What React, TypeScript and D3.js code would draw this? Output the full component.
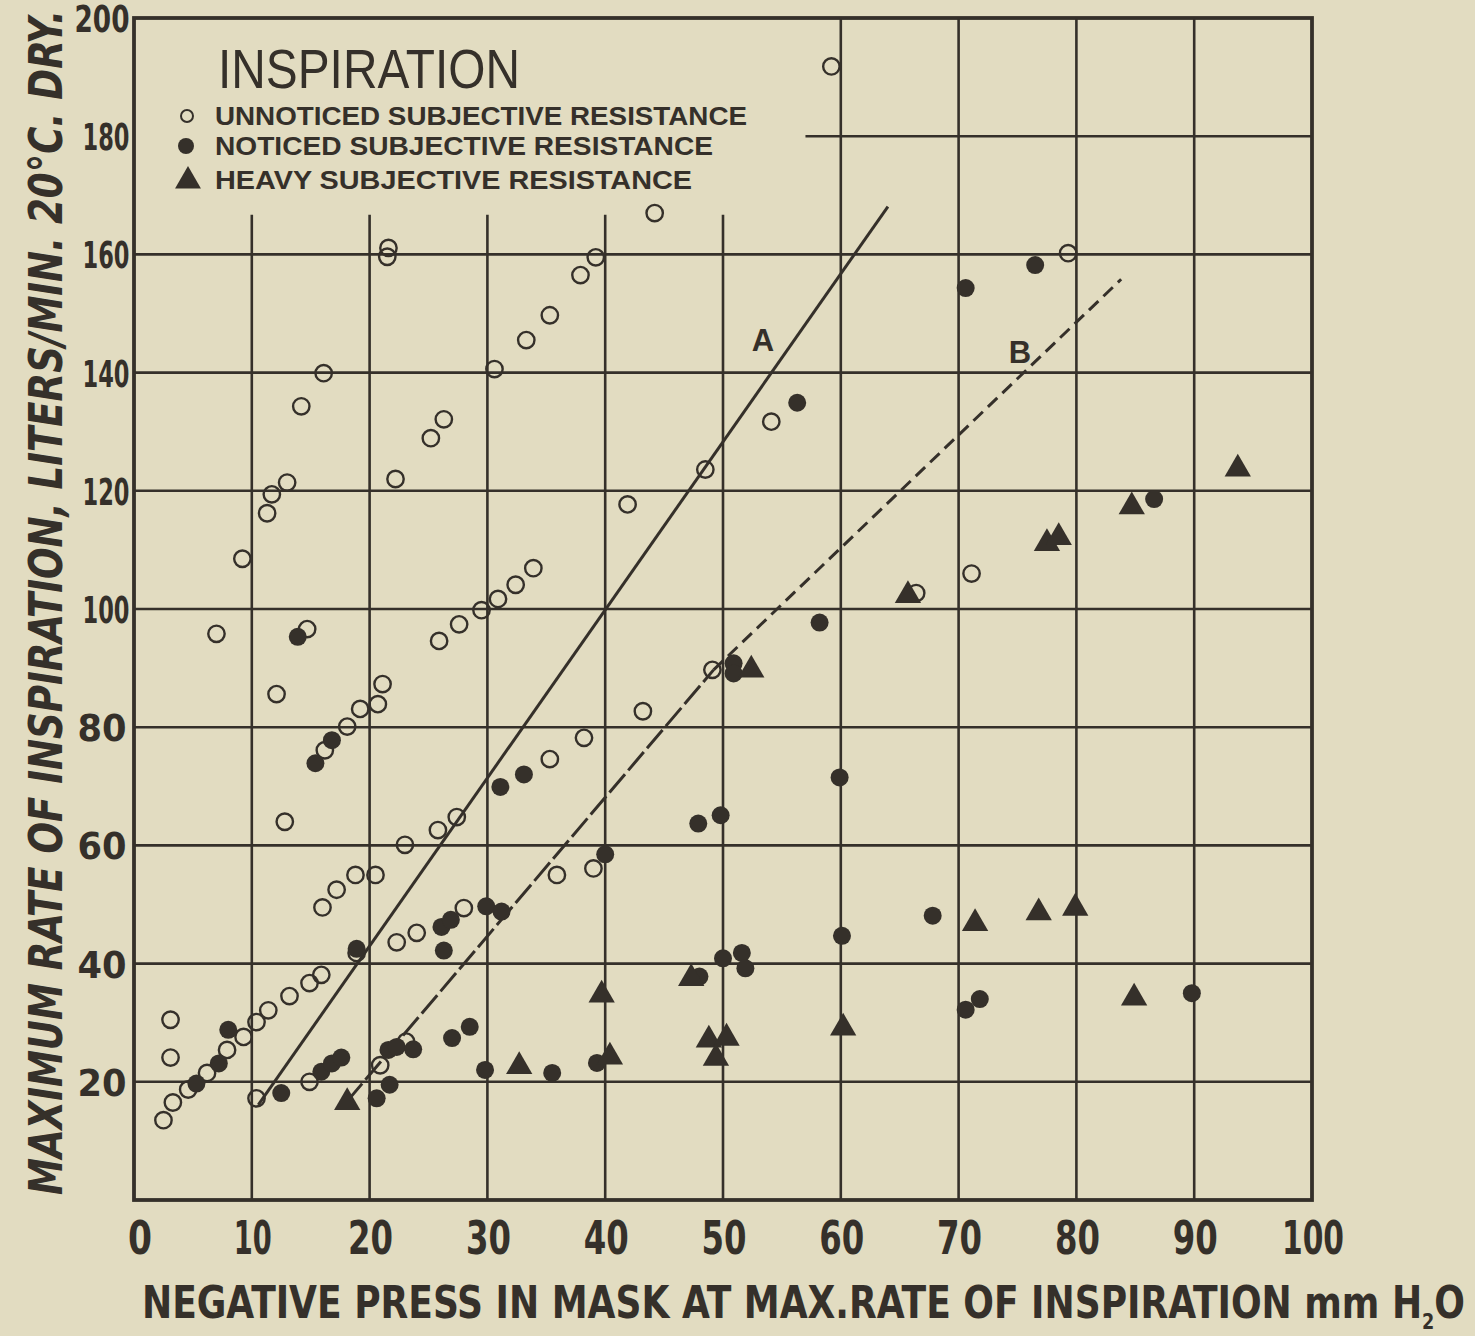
import React from 'react';
import * as d3 from 'd3';

// Fig. 7 - maximum rate of inspiration vs negative mask pressure
const W = 1475;
const H = 1336;

const xTicks = [0, 10, 20, 30, 40, 50, 60, 70, 80, 90, 100];
const yTicks = [20, 40, 60, 80, 100, 120, 140, 160, 180, 200];

// [mm H2O, liters/min]
const unnoticed: [number, number][] = [
  [21.6, 161.1], [21.5, 159.6], [16.1, 139.9], [30.6, 140.6], [33.3, 145.5], [14.2, 134.3],
  [59.2, 191.8], [44.2, 167.0], [39.2, 159.5], [37.9, 156.5], [35.3, 149.7], [26.3, 132.1],
  [25.2, 128.9], [22.2, 122.0], [13.0, 121.4], [11.7, 119.4], [11.3, 116.2], [9.2, 108.5],
  [7.0, 95.8], [14.7, 96.6], [12.1, 85.6], [25.9, 94.6], [27.6, 97.4], [29.5, 99.8],
  [30.9, 101.7], [32.4, 104.1], [33.9, 106.9], [21.1, 87.3], [20.7, 83.9], [19.2, 83.1],
  [18.1, 80.1], [16.2, 76.1], [12.8, 64.0], [27.4, 64.8], [25.8, 62.6], [23.0, 60.1],
  [20.5, 55.0], [18.8, 55.0], [17.2, 52.5], [16.0, 49.5], [28.0, 49.4], [24.0, 45.2],
  [22.3, 43.6], [18.9, 41.8], [15.9, 38.1], [14.9, 36.7], [13.2, 34.5], [11.4, 32.1],
  [10.4, 30.1], [9.3, 27.6], [7.9, 25.4], [6.2, 21.5], [4.6, 18.7], [3.3, 16.5],
  [2.5, 13.5], [3.1, 30.5], [3.1, 24.1], [10.4, 17.2], [14.9, 20.0], [20.9, 22.8],
  [23.1, 26.8], [54.1, 131.7], [48.5, 123.6], [41.9, 117.7], [66.4, 102.7], [49.1, 89.7],
  [43.2, 82.7], [38.2, 78.2], [35.3, 74.6], [35.9, 55.0], [39.0, 56.1], [79.3, 160.2],
  [71.1, 106.0],
];

const noticed: [number, number][] = [
  [13.9, 95.3], [16.8, 77.8], [15.4, 73.9], [31.1, 69.9], [33.1, 72.0], [26.1, 46.2],
  [26.9, 47.4], [26.3, 42.2], [29.9, 49.7], [31.2, 48.8], [18.9, 42.5], [8.0, 28.8],
  [7.2, 23.1], [5.3, 19.7], [12.5, 18.1], [15.9, 21.7], [16.8, 23.1], [17.6, 24.1],
  [20.6, 17.2], [21.7, 19.5], [21.6, 25.4], [22.3, 25.9], [23.7, 25.5], [27.0, 27.4],
  [28.5, 29.3], [29.8, 22.0], [56.3, 134.9], [58.2, 97.7], [50.9, 90.8], [50.9, 89.1],
  [59.9, 71.5], [47.9, 63.7], [49.8, 65.1], [40.0, 58.5], [35.5, 21.5], [39.3, 23.2],
  [48.0, 37.8], [50.0, 40.9], [51.6, 41.8], [51.9, 39.2], [60.1, 44.7], [67.8, 48.1],
  [70.6, 32.2], [71.8, 34.0], [89.8, 35.0], [76.5, 158.2], [70.6, 154.3], [86.6, 118.6],
];

const heavy: [number, number][] = [
  [18.1, 16.5], [32.7, 22.6], [39.7, 34.7], [40.4, 24.2], [47.3, 37.5], [48.8, 27.1],
  [50.3, 27.4], [49.4, 24.0], [60.2, 29.1], [52.4, 89.7], [65.7, 102.3], [71.4, 46.8],
  [76.8, 48.6], [79.9, 49.4], [84.9, 34.2], [93.7, 123.7], [84.7, 117.3], [77.5, 111.1],
  [78.5, 112.1],
];

// curve A (max unnoticed) and curve B (max noticed)
const curveA: [number, number][] = [[10.55, 16.1], [64.0, 168.1]];
const curveB: [number, number][] = [[18.05, 16.6], [49.2, 89.7], [83.8, 155.8]];

const legendLabels = [
  'UNNOTICED SUBJECTIVE RESISTANCE',
  'NOTICED SUBJECTIVE RESISTANCE',
  'HEAVY SUBJECTIVE RESISTANCE',
];

const paper = '#e2dcc1';
const ink = '#35302a';
const narrow = '"Liberation Sans Narrow", "DejaVu Sans Condensed", "Liberation Sans", sans-serif';

// stencil lettering widths, roughly as drawn
const xTickWidth = (t: number) => (t === 0 ? 24 : t === 10 ? 38 : t === 100 ? 62 : 45);
const yTickWidth = (t: number) => (t < 100 ? 49 : t === 200 ? 55 : 47);

export default function App() {
  const x = d3.scaleLinear().domain([0, 100]).range([134, 1312]);
  const y = d3.scaleLinear().domain([0, 200]).range([1200, 18]);

  const line = d3.line<[number, number]>().x(d => x(d[0])).y(d => y(d[1]));
  const tri = d3.symbol(d3.symbolTriangle, 300)() as string;
  const triSmall = d3.symbol(d3.symbolTriangle, 290)() as string;

  // the legend block leaves the upper-left grid cells empty
  const legendTop = 166.7;
  const legendRight = 57;

  return (
    <div style={{ position: 'absolute', left: 0, top: 0, width: W, height: H, background: paper }}>
      <svg width={W} height={H} style={{ display: 'block' }}>
        <rect width={W} height={H} fill={paper} />

        {/* grid */}
        <g stroke={ink} strokeWidth={2.6}>
          {xTicks.slice(1, -1).map(t => (
            <line key={'vx' + t} x1={x(t)} x2={x(t)} y1={y(0)}
              y2={t <= 50 ? y(legendTop) : y(200)} />
          ))}
          {yTicks.slice(0, -1).map(t => (
            <line key={'hy' + t} y1={y(t)} y2={y(t)} x1={t === 180 ? x(legendRight) : x(0)} x2={x(100)} />
          ))}
        </g>
        <rect x={x(0)} y={y(200)} width={x(100) - x(0)} height={y(0) - y(200)}
          fill="none" stroke={ink} strokeWidth={3.8} />

        {/* curves */}
        <path d={line(curveA) || ''} fill="none" stroke={ink} strokeWidth={3} />
        <path d={line(curveB.slice(0, 2)) || ''} fill="none" stroke={ink} strokeWidth={3}
          strokeDasharray="24,5" />
        <path d={line(curveB.slice(1)) || ''} fill="none" stroke={ink} strokeWidth={3}
          strokeDasharray="13,7" />
        <text x={763} y={351} fontFamily="Liberation Sans, sans-serif" fontWeight="bold"
          fontSize={31} fill={ink} textAnchor="middle">A</text>
        <text x={1020} y={363} fontFamily="Liberation Sans, sans-serif" fontWeight="bold"
          fontSize={31} fill={ink} textAnchor="middle">B</text>

        {/* points */}
        <g>
          {unnoticed.map((d, i) => (
            <circle key={'u' + i} cx={x(d[0])} cy={y(d[1])} r={8.2}
              fill="none" stroke={ink} strokeWidth={2.4} />
          ))}
          {noticed.map((d, i) => (
            <circle key={'n' + i} cx={x(d[0])} cy={y(d[1])} r={9} fill={ink} />
          ))}
          {heavy.map((d, i) => (
            <path key={'h' + i} d={tri} transform={`translate(${x(d[0])},${y(d[1])})`} fill={ink} />
          ))}
        </g>

        {/* legend */}
        <text x={218} y={88} fontFamily="Liberation Sans, sans-serif" fontSize={55}
          textLength={302} lengthAdjust="spacingAndGlyphs" fill={ink}>INSPIRATION</text>
        <circle cx={187} cy={116} r={6} fill="none" stroke={ink} strokeWidth={2} />
        <circle cx={186} cy={146} r={8} fill={ink} />
        <path d={triSmall} transform="translate(188,181)" fill={ink} />
        {legendLabels.map((s, i) => (
          <text key={s} x={215} y={[125, 155, 189][i]} fontFamily="Liberation Sans, sans-serif"
            fontWeight="bold" fontSize={25} fill={ink}
            textLength={[532, 498, 477][i]} lengthAdjust="spacingAndGlyphs">{s}</text>
        ))}

        {/* tick labels */}
        {xTicks.map(t => (
          <text key={'xt' + t} x={(t === 0 ? 140 : x(t) + 1) - xTickWidth(t) / 2} y={1254}
            fontFamily={narrow} fontWeight="bold" fontSize={46} fill={ink}
            textLength={xTickWidth(t)} lengthAdjust="spacingAndGlyphs">{t}</text>
        ))}
        {yTicks.map(t => (
          <text key={'yt' + t} x={(t >= 100 && t < 200 ? 106 : 102) - yTickWidth(t) / 2} y={y(t) + 14}
            fontFamily={narrow} fontWeight="bold" fontSize={38} fill={ink}
            textLength={yTickWidth(t)} lengthAdjust="spacingAndGlyphs">{t}</text>
        ))}

        {/* axis titles */}
        <text x={142} y={1318} fontFamily={narrow} fontWeight="bold" fontSize={45} fill={ink}
          textLength={1323} lengthAdjust="spacingAndGlyphs">
          NEGATIVE PRESS IN MASK AT MAX.RATE OF INSPIRATION mm H
          <tspan dy={11} fontSize={22}>2</tspan>
          <tspan dy={-11}>O</tspan>
        </text>

        <text transform="translate(62,1195) rotate(-90)" fontFamily={narrow} fontStyle="italic"
          fontWeight="bold" fontSize={46} fill={ink} textLength={1185} lengthAdjust="spacingAndGlyphs">
          MAXIMUM RATE OF INSPIRATION, LITERS/MIN. 20°C. DRY.
        </text>
      </svg>
    </div>
  );
}
